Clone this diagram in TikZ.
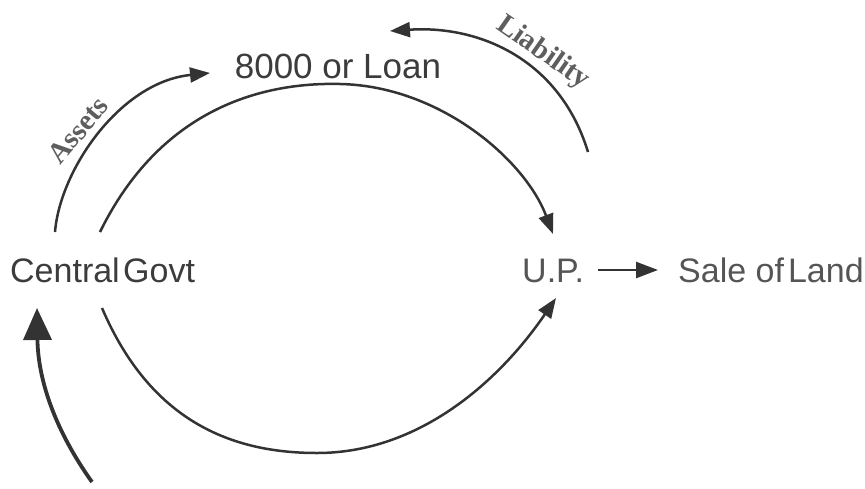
\documentclass[tikz,border=0pt]{standalone}
\usepackage{fontspec}
\setmainfont{Liberation Sans}
\newfontfamily\labelfont{Liberation Serif}
\usetikzlibrary{arrows.meta}
\definecolor{ink}{HTML}{333333}
\definecolor{txtdark}{HTML}{3C3C3C}
\definecolor{txtgray}{HTML}{555555}
\definecolor{lblgray}{HTML}{5E5E5E}
\tikzset{
  flow/.style={draw=ink, line width=2.5pt, -{Triangle[length=20pt,width=15pt]}},
  bigflow/.style={draw=ink, line width=3.8pt, -{Triangle[length=32pt,width=28pt]}},
  word/.style={inner sep=0pt, font=\fontsize{34}{34}\selectfont},
  arclabel/.style={inner sep=0pt, text=lblgray, font=\labelfont\bfseries\fontsize{29}{29}\selectfont}
}
\begin{document}
\begin{tikzpicture}[x=1pt,y=-1pt]
\useasboundingbox (0,0) rectangle (865,488);

% text nodes
\node[word, text=txtdark, anchor=base, font=\fontsize{35}{35}\selectfont] (loan) at (338,78) {8000 or Loan};
\node[word, text=txtdark, anchor=base west] (central) at (10,282) {Central\hspace{0.1em}Govt};
\node[word, text=txtgray, anchor=base west] (up) at (522,282) {U.P.};
\node[word, text=txtgray, anchor=base west] (land) at (678,282) {Sale of\hspace{0.12em}Land};

% curve end points
\coordinate (a1) at (55,232);
\coordinate (a2) at (210,73);
\coordinate (t1) at (100,232);
\coordinate (t2) at (553,234);
\coordinate (l1) at (588,152);
\coordinate (l2) at (390,31);
\coordinate (b1) at (102,308);
\coordinate (b2) at (556,298);
\coordinate (c1) at (92,482);
\coordinate (c2) at (37,308);

% Assets arrow
\draw[flow] (a1) .. controls (60,170) and (120,82) .. (a2);
\node[arclabel, rotate=50] (assets) at (78,130) {Assets};

% upper arc from Central Govt to U.P.
\draw[flow] (t1) .. controls (160,110) and (260,82) .. (340,84)
  .. controls (440,86) and (525,160) .. (t2);

% Liability arrow
\draw[flow] (l1) .. controls (560,60) and (480,25) .. (l2);
\node[arclabel, rotate=-35] (liability) at (543,53) {Liability};

% lower arc from Central Govt to U.P.
\draw[flow] (b1) .. controls (150,420) and (230,453) .. (317,453)
  .. controls (420,453) and (500,380) .. (b2);

% incoming arrow into Central Govt
\draw[bigflow] (c1) .. controls (55,430) and (38,380) .. (c2);

% U.P. to Sale of Land
\coordinate (u1) at (598,270);
\coordinate (u2) at (658,270);
\draw[flow, -{Triangle[length=22pt,width=16pt]}] (u1) -- (u2);
\end{tikzpicture}
\end{document}
